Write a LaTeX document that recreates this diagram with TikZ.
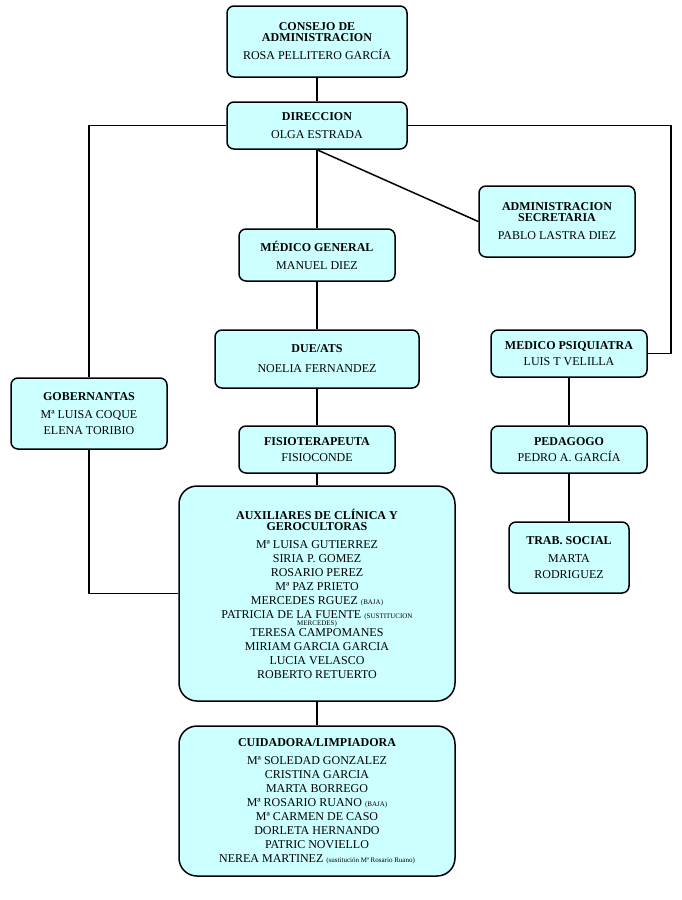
\documentclass[tikz,border=0pt]{standalone}
\usepackage{fontspec}
\setmainfont{Liberation Serif}
\definecolor{cyanbg}{HTML}{CCFFFF}
\newcommand{\sm}[1]{{\fontsize{7}{8}\selectfont #1}}
\begin{document}
\begin{tikzpicture}[x=1pt,y=-1pt,
  box/.style={draw,fill=cyanbg,rounded corners=7pt,line width=1.5pt,align=center,
    font=\fontsize{12}{14}\selectfont,inner sep=0pt},
  ln/.style={line width=1.5pt}]
\useasboundingbox (0,0) rectangle (681,900);
\node[box,minimum width=180,minimum height=71] (cons) at (317,41.5) {\textbf{CONSEJO DE}\\[-3pt]\textbf{ADMINISTRACION}\\[4pt]ROSA PELLITERO GARCÍA};
\node[box,minimum width=180,minimum height=47] (dir) at (317,125.5) {\textbf{DIRECCION}\\[4pt]OLGA ESTRADA};
\node[box,minimum width=156,minimum height=71] (adm) at (557,221.5) {\textbf{ADMINISTRACION}\\[-3pt]\textbf{SECRETARIA}\\[4pt]PABLO LASTRA DIEZ};
\node[box,minimum width=156,minimum height=52] (med) at (317,255) {\textbf{MÉDICO GENERAL}\\[4pt]MANUEL DIEZ};
\node[box,minimum width=204,minimum height=58] (due) at (317,359) {\textbf{DUE/ATS}\\[6pt]NOELIA FERNANDEZ};
\node[box,minimum width=156,minimum height=47] (fis) at (317,449.5) {\textbf{FISIOTERAPEUTA}\\[2pt]FISIOCONDE};
\node[box,minimum width=276,minimum height=215,rounded corners=18pt] (aux) at (317,593.5) {\textbf{AUXILIARES DE CLÍNICA Y}\\[-3pt]\textbf{GEROCULTORAS}\\[4pt]
Mª LUISA GUTIERREZ\\SIRIA P. GOMEZ\\ROSARIO PEREZ\\Mª PAZ PRIETO\\MERCEDES RGUEZ \sm{(BAJA)}\\PATRICIA DE LA FUENTE \sm{(SUSTITUCION}\\[-7pt]\sm{MERCEDES)}\\[-3pt]TERESA CAMPOMANES\\MIRIAM GARCIA GARCIA\\LUCIA VELASCO\\ROBERTO RETUERTO};
\node[box,minimum width=276,minimum height=150,rounded corners=18pt] (cui) at (317,801) {\textbf{CUIDADORA/LIMPIADORA}\\[4pt]
Mª SOLEDAD GONZALEZ\\CRISTINA GARCIA\\MARTA BORREGO\\Mª ROSARIO RUANO \sm{(BAJA)}\\Mª CARMEN DE CASO\\DORLETA HERNANDO\\PATRIC NOVIELLO\\NEREA MARTINEZ \sm{(sustitución Mª Rosario Ruano)}};
\node[box,minimum width=156,minimum height=71] (gob) at (89,413.5) {\textbf{GOBERNANTAS}\\[4pt]Mª LUISA COQUE\\[2pt]ELENA TORIBIO};
\node[box,minimum width=156,minimum height=47] (psi) at (569,353.5) {\textbf{MEDICO PSIQUIATRA}\\[2pt]LUIS T VELILLA};
\node[box,minimum width=156,minimum height=47] (ped) at (569,449.5) {\textbf{PEDAGOGO}\\[2pt]PEDRO A. GARCÍA};
\node[box,minimum width=120,minimum height=71] (tra) at (569,557.5) {\textbf{TRAB. SOCIAL}\\[4pt]MARTA\\[2pt]RODRIGUEZ};
\draw[ln] (cons) -- (dir);
\draw[ln] (dir.west) -| (gob.north);
\draw[ln] (gob.south) |- (aux.west);
\draw[ln] (dir.east) -- (671,125.5) |- (psi.east);
\draw[ln] (dir.south) -- (adm.west);
\draw[ln] (dir) -- (med) -- (due) -- (fis) -- (aux) -- (cui);
\draw[ln] (psi) -- (ped) -- (tra);
\end{tikzpicture}
\end{document}
